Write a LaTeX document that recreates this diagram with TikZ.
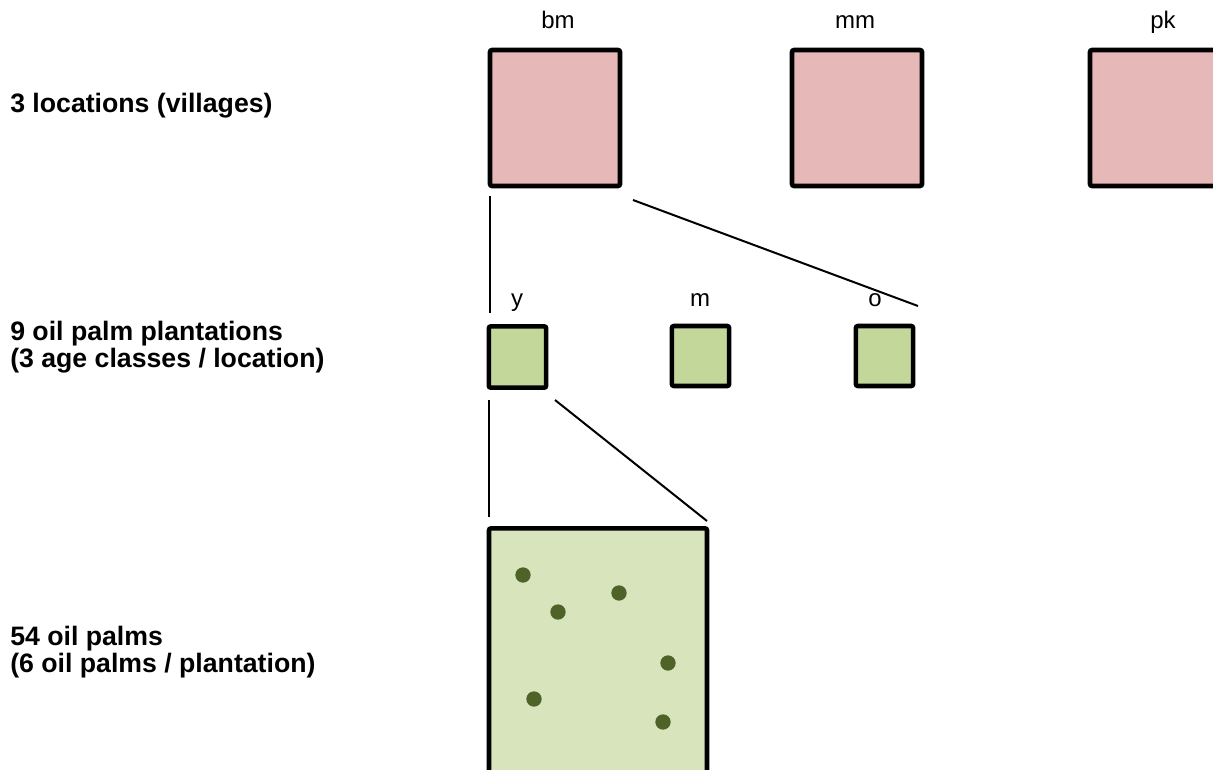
\documentclass[tikz,border=0pt]{standalone}
\usepackage{fontspec}
\setmainfont{Liberation Sans}
\usetikzlibrary{calc}
\definecolor{pinkfill}{HTML}{E6B8B7}
\definecolor{greenfill}{HTML}{C4D79B}
\definecolor{lightgreen}{HTML}{D8E4BC}
\definecolor{dotgreen}{HTML}{4F6228}
\tikzset{
  box/.style={draw=black, line width=3.4pt, rounded corners=1.5pt, inner sep=0pt, outer sep=0pt},
  loc/.style={box, fill=pinkfill},
  plant/.style={box, fill=greenfill},
  plot/.style={box, fill=lightgreen},
  palm/.style={circle, fill=dotgreen, inner sep=0pt, minimum size=11.5pt},
  toplabel/.style={font=\fontsize{18}{21}\selectfont, inner sep=0pt, anchor=base},
  sidelabel/.style={font=\fontsize{20}{20.5}\selectfont\bfseries, align=left, inner sep=0pt, anchor=west},
  link/.style={line width=1.5pt},
}
\begin{document}
\begin{tikzpicture}[x=0.75pt,y=-0.75pt]
\useasboundingbox (0,0) rectangle (1213,769);
% locations
\node[loc, minimum width=97.5pt, minimum height=102pt] (bm) at (555,118) {};
\node[loc, minimum width=97.5pt, minimum height=102pt] (mm) at (857,118) {};
\node[loc, minimum width=97.5pt, minimum height=102pt] (pk) at (1155,118) {};
\node[toplabel] (bmlab) at (558,28) {bm};
\node[toplabel] (mmlab) at (855,28) {mm};
\node[toplabel] (pklab) at (1163,28) {pk};
% plantations
\node[plant, minimum width=43pt, minimum height=46pt] (y) at (517.5,357) {};
\node[plant, minimum width=43pt, minimum height=45pt] (m) at (700.5,356) {};
\node[plant, minimum width=43pt, minimum height=45pt] (o) at (884.5,356) {};
\node[toplabel] (ylab) at (517,306) {y};
\node[toplabel] (mlab) at (700,306) {m};
\node[toplabel] (olab) at (875,306) {o};
% plot
\node[plot, minimum width=163.5pt, minimum height=190pt] (plotbox) at (598,655) {};
\node[palm] (p1) at (523,575) {};
\node[palm] (p2) at (558,612) {};
\node[palm] (p3) at (619,593) {};
\node[palm] (p4) at (668,663) {};
\node[palm] (p5) at (534,699) {};
\node[palm] (p6) at (663,722) {};
% connectors
\coordinate (a1) at (490,196);
\coordinate (a2) at (490,313);
\coordinate (b1) at (633,200);
\coordinate (b2) at (918,306);
\coordinate (c1) at (489,400);
\coordinate (c2) at (489,517);
\coordinate (d1) at (555,400);
\coordinate (d2) at (707,521);
\draw[link] (a1) -- (a2);
\draw[link] (b1) -- (b2);
\draw[link] (c1) -- (c2);
\draw[link] (d1) -- (d2);
% side labels
\node[sidelabel] (l1) at (10,106) {3 locations (villages)};
\node[sidelabel] (l2) at (10,347) {9 oil palm plantations\\(3 age classes / location)};
\node[sidelabel] (l3) at (10,652) {54 oil palms\\(6 oil palms / plantation)};
\end{tikzpicture}
\end{document}
